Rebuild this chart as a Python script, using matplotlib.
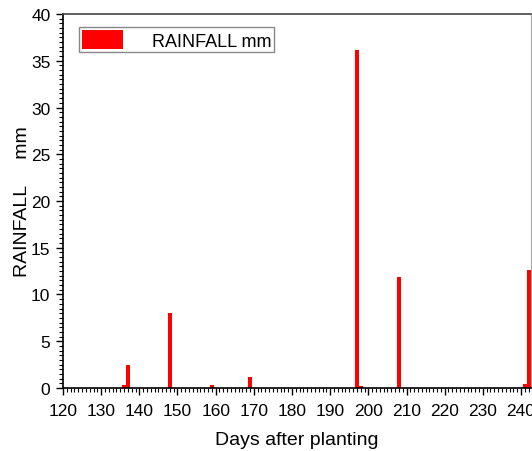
import matplotlib.pyplot as plt
from matplotlib.ticker import MultipleLocator

plt.rcParams['font.family'] = ['Liberation Sans', 'DejaVu Sans']

# daily rainfall events (days after planting, mm)
days = [136, 137, 148, 159, 169, 197, 198, 208, 241, 242]
rain_mm = [0.3, 2.5, 8.0, 0.3, 1.2, 36.2, 0.2, 11.9, 0.4, 12.6]

fig = plt.figure(figsize=(5.32, 4.52), dpi=100)
ax = fig.add_axes([0.1184, 0.1394, 0.8796, 0.8274])

ax.bar(days, rain_mm, width=1.1, color='red', label='RAINFALL mm')

ax.set_xlim(120, 242.6)
ax.set_ylim(0, 40)
ax.xaxis.set_major_locator(MultipleLocator(10))
ax.xaxis.set_minor_locator(MultipleLocator(1))
ax.yaxis.set_major_locator(MultipleLocator(5))
ax.yaxis.set_minor_locator(MultipleLocator(0.5))
ax.tick_params(which='major', direction='out', length=5, width=1,
               labelsize=12.5, pad=4)
ax.tick_params(axis='x', which='major', pad=6)
ax.tick_params(which='minor', direction='out', length=3, width=0.8)

for s in ['left', 'bottom']:
    ax.spines[s].set_linewidth(1.2)
ax.spines['top'].set_color('#444444')
ax.spines['top'].set_linewidth(1.2)
ax.spines['right'].set_color('#aaaaaa')

ax.set_xlabel('Days after planting', fontsize=14, labelpad=9)
ax.set_ylabel('RAINFALL     mm', fontsize=14, labelpad=0)

leg = ax.legend(loc='upper left', bbox_to_anchor=(0.034, 0.965), fontsize=13,
                fancybox=False, framealpha=1, edgecolor='#888888',
                handlelength=2.3, handleheight=1.3, handletextpad=1.6,
                borderpad=0.15, borderaxespad=0)

fig.savefig('out.png', dpi=100)
